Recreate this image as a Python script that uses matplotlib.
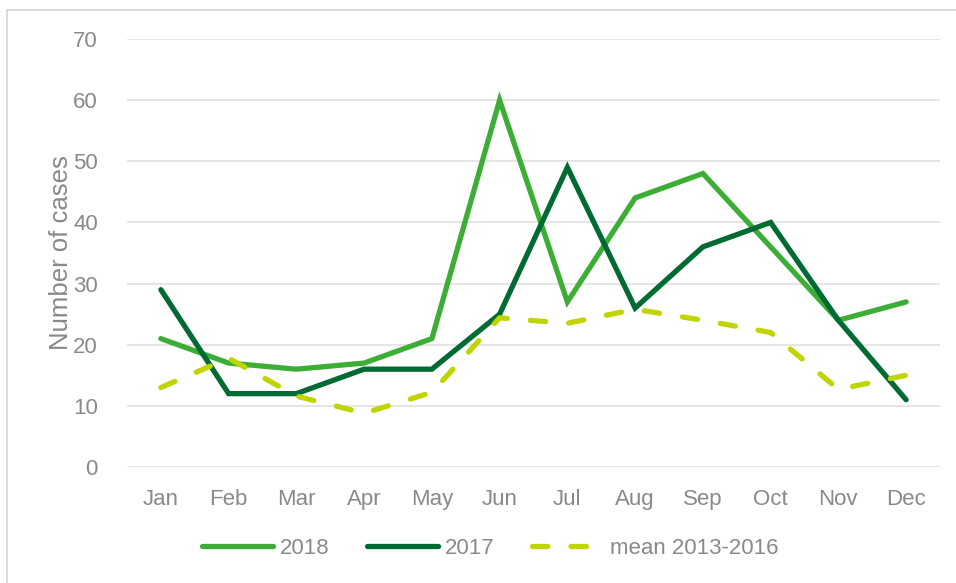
import matplotlib
matplotlib.use("Agg")
import matplotlib.pyplot as plt
from matplotlib.lines import Line2D

months = ["Jan", "Feb", "Mar", "Apr", "May", "Jun", "Jul", "Aug", "Sep", "Oct", "Nov", "Dec"]
cases_2018 = [21, 17, 16, 17, 21, 60, 27, 44, 48, 36, 24, 27]
cases_2017 = [29, 12, 12, 16, 16, 25, 49, 26, 36, 40, 24, 11]
mean_2013_2016 = [13, 17.8, 11.6, 8.8, 12.2, 24.4, 23.5, 25.8, 24, 22, 12.7, 15]
yticks = [0, 10, 20, 30, 40, 50, 60, 70]

plt.rcParams['font.family'] = ['Liberation Sans', 'DejaVu Sans']
gray = '#898989'

fig = plt.figure(figsize=(9.56, 5.83), dpi=100)
ax = fig.add_axes([127/956, 1-467/583, (940-127)/956, (467-39)/583])

x = range(len(months))
lw = 3.8
ax.plot(x, cases_2018, color='#3DAE35', lw=lw, solid_capstyle='round', solid_joinstyle='miter', label='2018')
ax.plot(x, cases_2017, color='#006A33', lw=lw, solid_capstyle='round', solid_joinstyle='miter', label='2017')
ax.plot(x, mean_2013_2016, color='#C0D400', lw=lw, dashes=(2.9, 4.4), dash_capstyle='round', label='mean 2013-2016')

ax.set_xlim(-0.5, len(months) - 0.5)
ax.set_ylim(0, 70)
ax.set_yticks(yticks)
ax.set_xticks(list(x))
ax.set_xticklabels(months)
ax.grid(axis='y', color='#E3E3E3', lw=1.3)
ax.set_axisbelow(True)
for s in ax.spines.values():
    s.set_visible(False)
ax.tick_params(axis='both', length=0, labelsize=16, colors=gray, labelcolor=gray)
ax.tick_params(axis='y', pad=21)
ax.tick_params(axis='x', pad=16)
ax.set_ylabel('Number of cases', fontsize=18.5, color=gray, labelpad=0)

leg = fig.legend(loc='center', bbox_to_anchor=(490/956, 1-548/583), ncol=3, frameon=False,
                 fontsize=16, handlelength=3.2, handletextpad=0.3, columnspacing=1.7)
for t in leg.get_texts():
    t.set_color(gray)

fig.add_artist(Line2D([7/956, 7/956], [0, 1-10/583], color='#DADADA', lw=1.3, transform=fig.transFigure))
fig.add_artist(Line2D([7/956, 1], [1-10/583, 1-10/583], color='#DADADA', lw=1.3, transform=fig.transFigure))

fig.savefig('out.png', dpi=100)
